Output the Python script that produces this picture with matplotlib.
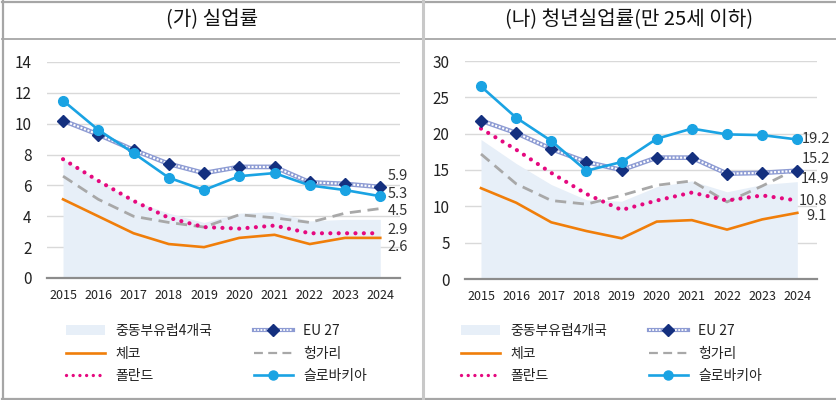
import matplotlib
matplotlib.use("Agg")
import matplotlib.pyplot as plt
from matplotlib.lines import Line2D
from matplotlib.patches import Patch
from matplotlib.legend_handler import HandlerTuple

plt.rcParams['font.family'] = ['Noto Sans CJK KR', 'DejaVu Sans']

years = [2015, 2016, 2017, 2018, 2019, 2020, 2021, 2022, 2023, 2024]
year_labels = [str(y) for y in years]

# (가) 실업률
cee4_a = [7.7, 6.3, 5.0, 4.2, 3.6, 4.2, 4.3, 3.7, 3.8, 3.8]
eu27_a = [10.2, 9.3, 8.3, 7.4, 6.8, 7.2, 7.2, 6.2, 6.1, 5.9]
czech_a = [5.1, 4.0, 2.9, 2.2, 2.0, 2.6, 2.8, 2.2, 2.6, 2.6]
hungary_a = [6.6, 5.1, 4.0, 3.6, 3.3, 4.1, 3.9, 3.6, 4.2, 4.5]
poland_a = [7.7, 6.3, 5.0, 3.9, 3.3, 3.2, 3.4, 2.9, 2.9, 2.9]
slovakia_a = [11.5, 9.6, 8.1, 6.5, 5.7, 6.6, 6.8, 6.0, 5.7, 5.3]

# (나) 청년실업률
cee4_b = [19.2, 15.9, 13.0, 10.9, 10.7, 12.7, 13.5, 12.0, 13.0, 13.4]
eu27_b = [21.8, 20.1, 17.9, 16.1, 15.0, 16.7, 16.7, 14.5, 14.6, 14.9]
czech_b = [12.5, 10.5, 7.8, 6.6, 5.6, 7.9, 8.1, 6.8, 8.2, 9.1]
hungary_b = [17.2, 13.1, 10.8, 10.3, 11.5, 12.9, 13.5, 10.6, 12.8, 15.2]
poland_b = [20.7, 17.8, 14.6, 11.7, 9.5, 10.8, 11.9, 10.8, 11.5, 10.8]
slovakia_b = [26.5, 22.2, 19.0, 14.9, 16.1, 19.3, 20.7, 19.9, 19.8, 19.2]

titles = ['(가) 실업률', '(나) 청년실업률(만 25세 이하)']
legend_labels = ['중동부유럽4개국', '체코', '폴란드', 'EU 27', '헝가리', '슬로바키아']

C_AREA = '#e7eff8'
C_EU_LINE = '#8d9bd3'
C_EU_MARK = '#14307f'
C_CZ = '#f07e0a'
C_HU = '#a8a8a8'
C_PL = '#e5097f'
C_SK = '#1aa3e3'

W, H = 836, 400
fig = plt.figure(figsize=(W / 100, H / 100), dpi=100)


def fx(px):
    return px / W


def fy(py):
    return 1 - py / H


def draw_panel(ax, cee4, eu, cz, hu, pl, sk, ymax, ystep, end_labels):
    ax.fill_between(years, 0, cee4, color=C_AREA, lw=0, zorder=1)
    ax.plot(years, cz, color=C_CZ, lw=1.9, zorder=3)
    ax.plot(years, hu, color=C_HU, lw=2.0, ls=(0, (4, 2.4)), zorder=3)
    ax.plot(years, pl, color=C_PL, lw=3.0, ls=(0, (0.01, 2.0)),
            dash_capstyle='round', zorder=3)
    ax.plot(years, eu, color=C_EU_LINE, lw=3.4, zorder=4)
    ax.plot(years, eu, color='white', lw=1.5, ls=(0, (1, 0.8)), zorder=4)
    ax.plot(years, eu, ls='none', marker='D', ms=6.5, color=C_EU_MARK, zorder=5)
    ax.plot(years, sk, color=C_SK, lw=1.9, marker='o', ms=7, zorder=6)
    ax.set_xlim(2014.545, 2024.56)
    ax.set_ylim(0, ymax)
    ax.set_yticks(range(0, ymax + 1, ystep))
    ax.set_xticks(years)
    ax.set_xticklabels(year_labels, fontsize=9)
    ax.tick_params(axis='y', length=0, pad=11, labelsize=11, colors='#222222')
    ax.tick_params(axis='x', length=0, pad=8, colors='#222222')
    ax.grid(axis='y', color='#d9d9d9', lw=1.0)
    ax.set_axisbelow(True)
    for s in ['top', 'right', 'left']:
        ax.spines[s].set_visible(False)
    ax.spines['bottom'].set_color('#8c8c8c')
    ax.spines['bottom'].set_linewidth(1.6)
    ax.spines['bottom'].set_zorder(7)
    for txt, xo, yl in end_labels:
        ax.text(2024 + xo, yl, txt, fontsize=10.5, color='#333333', va='center',
                ha='left', zorder=8)


# left axes: x 47..400 px, y 0 at 278, top 62
ax1 = fig.add_axes([fx(47), fy(278), fx(400) - fx(47), fy(62) - fy(278)])
draw_panel(ax1, cee4_a, eu27_a, czech_a, hungary_a, poland_a, slovakia_a, 14, 2,
           [('5.9', 0.2, 6.61), ('5.3', 0.2, 5.44), ('4.5', 0.2, 4.34),
            ('2.9', 0.2, 3.11), ('2.6', 0.2, 2.01)])

ax2 = fig.add_axes([fx(465), fy(279), fx(817) - fx(465), fy(61) - fy(279)])
draw_panel(ax2, cee4_b, eu27_b, czech_b, hungary_b, poland_b, slovakia_b, 30, 5,
           [('19.2', 0.12, 19.27), ('15.2', 0.12, 16.5), ('14.9', 0.1, 13.76),
            ('10.8', 0.04, 10.73), ('9.1', 0.26, 8.67)])

# titles
fig.text(fx(212), fy(20), titles[0], fontsize=14.5, ha='center', va='center', color='#111111')
fig.text(fx(629), fy(20), titles[1], fontsize=14.5, ha='center', va='center', color='#111111')

# frame lines
border = '#a6a6a6'
fig.add_artist(Line2D([fx(2), fx(836)], [fy(1.5), fy(1.5)], color=border, lw=1.6))
fig.add_artist(Line2D([fx(2), fx(836)], [fy(398.5), fy(398.5)], color=border, lw=1.6))
fig.add_artist(Line2D([fx(2.5), fx(2.5)], [fy(1), fy(399)], color=border, lw=1.6))
fig.add_artist(Line2D([fx(2), fx(836)], [fy(38.5), fy(38.5)], color=border, lw=1.3))
fig.add_artist(Line2D([fx(423), fx(423)], [fy(1), fy(399)], color='#c8c8c8', lw=2.2))

# legends
def make_handles():
    h_area = Patch(facecolor=C_AREA, edgecolor='none')
    h_cz = Line2D([], [], color=C_CZ, lw=1.9)
    h_pl = Line2D([], [], color=C_PL, lw=2.4, ls=(0, (0.01, 2.0)), dash_capstyle='round')
    h_eu = (Line2D([], [], color=C_EU_LINE, lw=3.0),
            Line2D([], [], color='white', lw=1.3, ls=(0, (1, 0.8))),
            Line2D([], [], ls='none', marker='D', ms=6, color=C_EU_MARK))
    h_hu = Line2D([], [], color=C_HU, lw=1.6, ls=(0, (4, 2.4)))
    h_sk = Line2D([], [], color=C_SK, lw=1.9, marker='o', ms=6.5)
    return [h_area, h_cz, h_pl, h_eu, h_hu, h_sk]


for xpx in (66, 461):
    leg = fig.legend(make_handles(), legend_labels, ncol=2, loc='upper left',
                     bbox_to_anchor=(fx(xpx), fy(324)), frameon=False,
                     fontsize=10, handlelength=2.8, handletextpad=0.75,
                     columnspacing=3.0, labelspacing=0.62, borderpad=0,
                     borderaxespad=0, numpoints=1,
                     handler_map={tuple: HandlerTuple(ndivide=1, pad=0)})
    for t in leg.get_texts():
        t.set_color('#222222')

fig.savefig('out.png', dpi=100)
